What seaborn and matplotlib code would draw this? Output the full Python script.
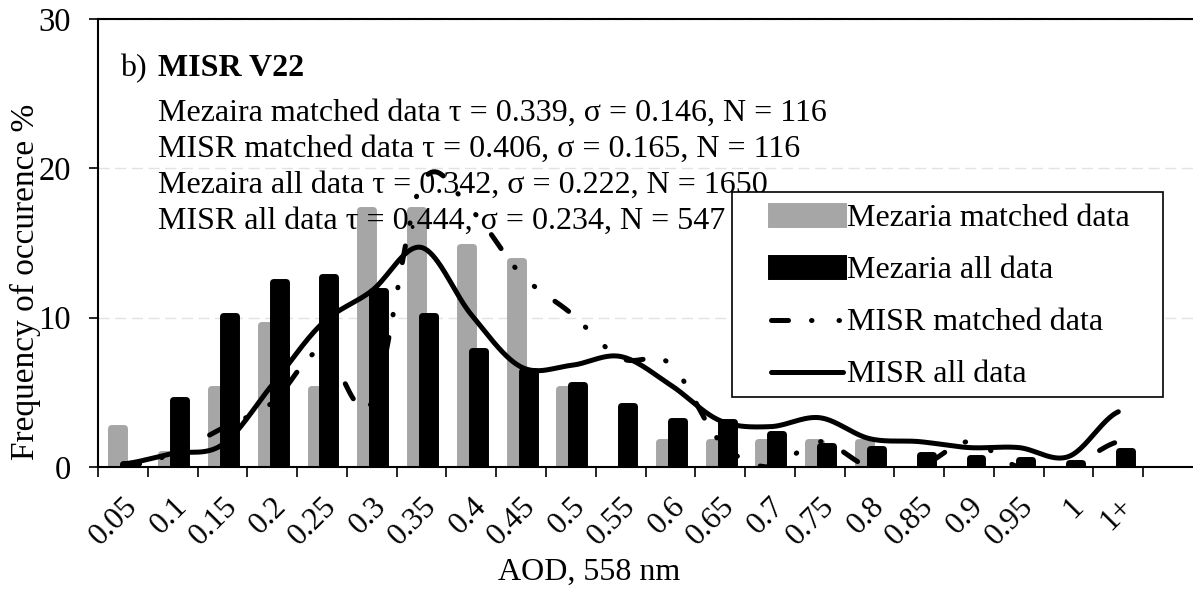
import numpy as np
import matplotlib
matplotlib.use("Agg")
import matplotlib.pyplot as plt
import seaborn as sns
from matplotlib.patches import Patch, Rectangle
from matplotlib.lines import Line2D

# ---------------- data ----------------
categories = ['0.05', '0.1', '0.15', '0.2', '0.25', '0.3', '0.35', '0.4', '0.45', '0.5',
              '0.55', '0.6', '0.65', '0.7', '0.75', '0.8', '0.85', '0.9', '0.95', '1', '1+']
mezaria_matched = [2.6, 0.9, 5.2, 9.5, 5.2, 17.2, 17.2, 14.7, 13.8, 5.2,
                   0.0, 1.7, 1.7, 1.7, 1.7, 1.7, 0.0, 0.0, 0.0, 0.0, 0.0]
mezaria_all = [0.2, 4.5, 10.1, 12.4, 12.7, 11.8, 10.1, 7.8, 6.4, 5.5,
               4.1, 3.1, 3.0, 2.2, 1.4, 1.2, 0.8, 0.6, 0.5, 0.3, 1.1]
misr_matched = [0.0, 0.9, 2.6, 4.3, 7.8, 4.3, 19.0, 17.2, 12.9, 10.3,
                7.3, 6.9, 1.7, 0.0, 1.7, 0.0, 0.0, 1.7, 0.0, 0.0, 1.7]
misr_all = [0.2, 0.9, 1.5, 5.5, 9.6, 11.8, 14.7, 10.2, 6.7, 6.8,
            7.4, 5.5, 3.1, 2.7, 3.3, 1.9, 1.7, 1.3, 1.3, 0.7, 3.7]
y_ticks = [0, 10, 20, 30]
title_plain = "b)"
title_bold = "MISR V22"
stats_lines = [
    "Mezaira matched data \u03c4 = 0.339, \u03c3 = 0.146, N = 116",
    "MISR matched data \u03c4 = 0.406, \u03c3 = 0.165, N = 116",
    "Mezaira all data \u03c4 = 0.342, \u03c3 = 0.222, N = 1650",
    "MISR all data \u03c4 = 0.444, \u03c3 = 0.234, N = 547",
]
legend_labels = ["Mezaria matched data", "Mezaria all data", "MISR matched data", "MISR all data"]
x_label = "AOD, 558 nm"
y_label = "Frequency of occurence %"

# ---------------- style ----------------
sns.set_theme(style="white")
plt.rcParams["font.family"] = ["Liberation Serif", "DejaVu Serif"]
plt.rcParams.update({"text.color": "black", "axes.labelcolor": "black",
                     "xtick.color": "black", "ytick.color": "black",
                     "axes.edgecolor": "black"})

GRAY = "#a6a6a6"
W, H = 1193, 599
fig = plt.figure(figsize=(W / 100, H / 100), dpi=100)
L, R, T, B = 98, 1193, 19, 467
ax = fig.add_axes([L / W, 1 - B / H, (R - L) / W, (B - T) / H])
fx = lambda px: px / W
fy = lambda py: 1 - py / H


def catmull(vals, n=40):
    p = np.asarray(vals, float)
    m = np.empty_like(p)
    m[1:-1] = (p[2:] - p[:-2]) / 2
    m[0] = (p[1] - p[0]) / 2
    m[-1] = (p[-1] - p[-2]) / 2
    t = np.linspace(0, 1, n, endpoint=False)[:, None]
    h00 = 2 * t**3 - 3 * t**2 + 1
    h10 = t**3 - 2 * t**2 + t
    h01 = -2 * t**3 + 3 * t**2
    h11 = t**3 - t**2
    seg = h00 * p[:-1] + h10 * m[:-1] + h01 * p[1:] + h11 * m[1:]
    xs = np.arange(len(p) - 1)[None, :] + t
    xs = np.append(xs.T.ravel(), len(p) - 1)
    ys = np.append(seg.T.ravel(), p[-1])
    return xs, ys


x = np.arange(len(categories))
bar_w = 0.26
EDGE = 5
mm = np.array(mezaria_matched)
ma = np.array(mezaria_all)
sel = mm > 0
ax.bar(x[sel] - 0.10, mm[sel], width=bar_w, color=GRAY, edgecolor=GRAY,
       linewidth=EDGE, joinstyle="round", zorder=2)
sel = ma > 0
ax.bar(x[sel] + 0.14, ma[sel], width=bar_w, color="black", edgecolor="black",
       linewidth=EDGE, joinstyle="round", zorder=2.1)

DASHDOT = (0, (3.4, 4.6, 0.1, 5.4, 0.1, 5.0))
LW = 3.6
xs, ys = catmull(misr_matched)
sns.lineplot(x=xs, y=ys, ax=ax, color="black", linewidth=LW, sort=False,
             estimator=None, zorder=4, linestyle=DASHDOT, dash_capstyle="round")
xs, ys = catmull(misr_all)
sns.lineplot(x=xs, y=ys, ax=ax, color="black", linewidth=LW, sort=False,
             estimator=None, zorder=4.1, solid_capstyle="round")

ax.set_xlim(-0.5, 21.5)
ax.set_ylim(0, 30)
ax.set_xticks(x)
ax.set_xticklabels(categories, rotation=45, ha="right", va="top",
                   rotation_mode="anchor", fontsize=22.5)
ax.set_xticks(np.arange(-0.5, 21, 1), minor=True)
ax.tick_params(axis="x", which="major", length=0, pad=18, bottom=True)
ax.tick_params(axis="x", which="minor", length=7, width=1.2, direction="out", bottom=True)
ax.set_yticks(y_ticks)
ax.tick_params(axis="y", length=6.5, width=1.2, pad=13.2, labelsize=23.5,
               left=True, direction="out")
ax.set_xlabel("")
ax.set_ylabel("")
for s in ["left", "bottom", "top"]:
    ax.spines[s].set_color("black")
    ax.spines[s].set_linewidth(1.5)
ax.spines["right"].set_visible(False)
ax.grid(axis="y", color="#e2e2e2", linestyle=(0, (8, 4)), linewidth=1.0)
ax.grid(axis="x", visible=False)
ax.set_axisbelow(True)

# annotation text (drawn under the lines)
FS = 23
ax.text(fx(120), fy(76.5), title_plain, transform=fig.transFigure, fontsize=FS,
        va="baseline", ha="left", zorder=3)
ax.text(fx(158), fy(76.5), title_bold, transform=fig.transFigure, fontsize=FS,
        fontweight="bold", va="baseline", ha="left", zorder=3)
for i, line in enumerate(stats_lines):
    ax.text(fx(158), fy(120.5 + 36 * i), line, transform=fig.transFigure,
            fontsize=FS, va="baseline", ha="left", zorder=3)

ax.text(fx(589), fy(572), x_label, transform=fig.transFigure, fontsize=FS,
        ha="center", va="center")
ax.text(fx(25), fy(282), y_label, transform=fig.transFigure, fontsize=24,
        ha="center", va="center", rotation=90)

# legend
ax.add_patch(Rectangle((fx(732), fy(397)), (1163 - 732) / W, (397 - 192) / H,
                       transform=fig.transFigure, facecolor="white",
                       edgecolor="black", linewidth=1.2, zorder=5, clip_on=False))
handles = [
    Patch(facecolor=GRAY, edgecolor=GRAY, linewidth=EDGE, joinstyle="round"),
    Patch(facecolor="black", edgecolor="black", linewidth=EDGE, joinstyle="round"),
    Line2D([], [], color="black", linewidth=LW, linestyle=DASHDOT, dash_capstyle="round"),
    Line2D([], [], color="black", linewidth=LW),
]
leg = ax.legend(handles, legend_labels, loc="upper left",
                bbox_to_anchor=(fx(771), fy(204)), bbox_transform=fig.transFigure,
                frameon=False, borderpad=0, borderaxespad=0, fontsize=FS,
                handlelength=2.25, handleheight=0.5, handletextpad=0.12, labelspacing=0.72)
leg.set_zorder(6)

fig.savefig("out.png", dpi=100)
